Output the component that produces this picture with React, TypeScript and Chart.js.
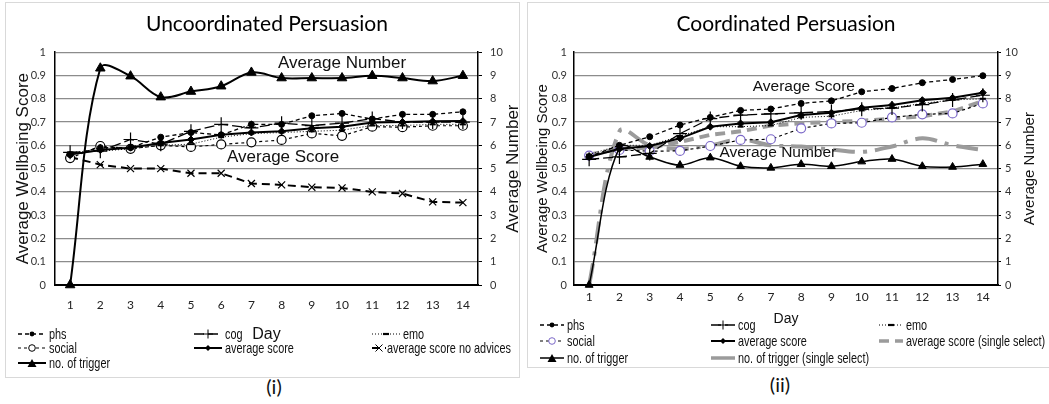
import React, { useEffect, useRef } from 'react';
import { Chart, registerables } from 'chart.js';

Chart.register(...registerables);

// ---------- data ----------
const days = ['1', '2', '3', '4', '5', '6', '7', '8', '9', '10', '11', '12', '13', '14'];

// Uncoordinated persuasion (left panel)
const uPhs = [0.56, 0.59, 0.59, 0.635, 0.655, 0.645, 0.69, 0.69, 0.727, 0.737, 0.713, 0.733, 0.733, 0.744];
const uCog = [0.57, 0.575, 0.625, 0.605, 0.66, 0.69, 0.675, 0.695, 0.685, 0.695, 0.715, 0.7, 0.7, 0.7];
const uEmo = [0.57, 0.575, 0.585, 0.6, 0.605, 0.635, 0.65, 0.655, 0.66, 0.665, 0.685, 0.685, 0.69, 0.69];
const uSocial = [0.545, 0.597, 0.585, 0.6, 0.593, 0.604, 0.613, 0.623, 0.651, 0.641, 0.68, 0.678, 0.684, 0.684];
const uAverage = [0.56, 0.58, 0.59, 0.61, 0.625, 0.645, 0.655, 0.66, 0.673, 0.68, 0.698, 0.7, 0.703, 0.704];
const uNoAdvice = [0.55, 0.517, 0.5, 0.5, 0.48, 0.48, 0.436, 0.43, 0.42, 0.417, 0.4, 0.393, 0.357, 0.354];
const uTrigger = [0, 9.31, 8.97, 8.07, 8.31, 8.54, 9.13, 8.89, 8.89, 8.89, 8.99, 8.89, 8.76, 8.99];

// Coordinated persuasion (right panel)
const cPhs = [0.551, 0.6, 0.637, 0.687, 0.72, 0.75, 0.756, 0.78, 0.791, 0.83, 0.844, 0.869, 0.883, 0.899];
const cCog = [0.54, 0.55, 0.565, 0.65, 0.715, 0.73, 0.735, 0.74, 0.745, 0.755, 0.76, 0.775, 0.795, 0.815];
const cEmo = [0.56, 0.6, 0.6, 0.64, 0.68, 0.68, 0.685, 0.72, 0.725, 0.75, 0.76, 0.78, 0.795, 0.8];
const cSocial = [0.556, 0.58, 0.575, 0.576, 0.597, 0.623, 0.626, 0.673, 0.694, 0.697, 0.72, 0.733, 0.737, 0.78];
const cAverage = [0.55, 0.585, 0.597, 0.63, 0.68, 0.694, 0.699, 0.73, 0.74, 0.761, 0.773, 0.794, 0.804, 0.826];
const cAverageSingle = [0.56, 0.585, 0.59, 0.615, 0.645, 0.66, 0.685, 0.695, 0.7, 0.705, 0.715, 0.725, 0.745, 0.79];
const cTrigger = [0, 5.9, 5.5, 5.15, 5.47, 5.1, 5.03, 5.19, 5.1, 5.3, 5.41, 5.1, 5.07, 5.19];
const cTriggerSingle = [0, 6.6, 6.0, 5.85, 6.0, 6.25, 6.0, 5.95, 5.82, 5.72, 5.95, 6.3, 6.0, 5.8];

const leftTitle = 'Uncoordinated Persuasion';
const rightTitle = 'Coordinated Persuasion';
const yLeftTitle = 'Average Wellbeing Score';
const yRightTitle = 'Average Number';
const xTitle = 'Day';

const uLegendRows = [
  ['phs', 'cog', 'emo'],
  ['social', 'average score', 'average score no advices'],
  ['no. of trigger'],
];
const cLegendRows = [
  ['phs', 'cog', 'emo'],
  ['social', 'average score', 'average score (single select)'],
  ['no. of trigger', 'no. of trigger (single select)'],
];

// ---------- styles ----------
const ARIAL = '"Liberation Sans", Arial, sans-serif';
const NARROW = '"Liberation Sans Narrow", "Arial Narrow", "Liberation Sans", sans-serif';
const CAL = 'Lato, "Open Sans", sans-serif';
const GRAY = '#9b9b9b';
const PURPLE = '#7b68c8';

type Marker = 'dot' | 'plus' | 'dash' | 'ocircle' | 'diamond' | 'x' | 'tri' | 'none';
type SeriesStyle = { color: string; width: number; dash: number[]; marker: Marker; markerColor?: string };

const S: Record<string, SeriesStyle> = {
  phs: { color: '#000', width: 1.3, dash: [4, 3], marker: 'dot' },
  cog: { color: '#000', width: 1.3, dash: [10, 4], marker: 'plus' },
  emo: { color: '#000', width: 1, dash: [1, 2], marker: 'dash' },
  social: { color: '#000', width: 1.2, dash: [3, 3], marker: 'ocircle' },
  socialC: { color: '#000', width: 1.2, dash: [3, 3], marker: 'ocircle', markerColor: PURPLE },
  avg: { color: '#000', width: 2, dash: [], marker: 'diamond' },
  noAdv: { color: '#000', width: 2, dash: [8, 5], marker: 'x' },
  trig: { color: '#000', width: 2, dash: [], marker: 'tri' },
  avgSingle: { color: GRAY, width: 4, dash: [10, 6], marker: 'none' },
  trigSingle: { color: GRAY, width: 4, dash: [], marker: 'none' },
};

function pointProps(st: SeriesStyle, big = false) {
  const mc = st.markerColor || st.color;
  switch (st.marker) {
    case 'dot':
      return { pointStyle: 'circle', pointRadius: 3, pointBackgroundColor: mc, pointBorderColor: mc, pointBorderWidth: 1 };
    case 'plus':
      return { pointStyle: 'cross', pointRadius: 7, pointBackgroundColor: mc, pointBorderColor: mc, pointBorderWidth: 1.2 };
    case 'dash':
      return { pointStyle: 'line', pointRadius: 3, pointBackgroundColor: mc, pointBorderColor: mc, pointBorderWidth: 2 };
    case 'ocircle':
      return { pointStyle: 'circle', pointRadius: 4.5, pointBackgroundColor: '#fff', pointBorderColor: mc, pointBorderWidth: 1.2 };
    case 'diamond':
      return { pointStyle: 'rectRot', pointRadius: 3.5, pointBackgroundColor: mc, pointBorderColor: mc, pointBorderWidth: 1 };
    case 'x':
      return { pointStyle: 'crossRot', pointRadius: 5, pointBackgroundColor: mc, pointBorderColor: mc, pointBorderWidth: 1.2 };
    case 'tri':
      return { pointStyle: 'triangle', pointRadius: big ? 5.5 : 4.5, pointBackgroundColor: mc, pointBorderColor: mc, pointBorderWidth: 1 };
    default:
      return { pointRadius: 0 };
  }
}

function ds(label: string, data: number[], st: SeriesStyle, extra: any = {}) {
  return {
    label,
    data,
    borderColor: st.color,
    borderWidth: st.width,
    borderDash: st.dash,
    backgroundColor: st.color,
    fill: false,
    tension: 0,
    clip: false,
    yAxisID: 'y',
    ...pointProps(st, extra.big),
    ...extra,
  };
}

const notesPlugin = {
  id: 'panelNotes',
  afterDatasetsDraw(chart: any, _args: any, opts: any) {
    const ctx = chart.ctx;
    const xs = chart.scales.x;
    const ys = chart.scales.y;
    ctx.save();
    ctx.fillStyle = '#111';
    ctx.textAlign = 'center';
    ctx.textBaseline = 'middle';
    for (const n of opts.notes || []) {
      ctx.font = `${n.size}px ${ARIAL}`;
      ctx.fillText(n.text, xs.getPixelForValue(n.at), ys.getPixelForValue(n.value));
    }
    const y1 = chart.scales.y1;
    const ca = chart.chartArea;
    ctx.translate(y1.right - opts.rightOffset, (ca.top + ca.bottom) / 2);
    ctx.rotate(-Math.PI / 2);
    ctx.font = `${opts.rightSize}px ${ARIAL}`;
    ctx.fillText(opts.rightTitle, 0, 0);
    ctx.restore();
  },
};

type PanelCfg = {
  title: string;
  datasets: any[];
  yWidth: number;
  y1Width: number;
  xHeight: number;
  yTitleSize: number;
  yTitlePad: number;
  xTickPad: number;
  xTitleSize: number;
  xTitlePadBottom: number;
  yTickPad: number;
  y1TickPad: number;
  y1TickLen: number;
  notes: any[];
  rightOffset: number;
  rightSize: number;
};

const fmtLeft = (v: any) => String(Math.round(Number(v) * 10) / 10);

function makeConfig(p: PanelCfg): any {
  return {
    type: 'line',
    data: { labels: days, datasets: p.datasets },
    plugins: [notesPlugin],
    options: {
      responsive: false,
      animation: false,
      layout: { padding: 0 },
      plugins: {
        legend: { display: false },
        tooltip: { enabled: false },
        title: {
          display: true,
          text: p.title,
          color: '#000',
          font: { family: CAL, size: 21, weight: 'normal' },
          padding: { top: 12, bottom: 15 },
        },
        panelNotes: { notes: p.notes, rightTitle: yRightTitle, rightOffset: p.rightOffset, rightSize: p.rightSize },
      },
      scales: {
        x: {
          type: 'category',
          offset: true,
          grid: { display: false, drawTicks: false },
          border: { display: true, color: '#000', width: 2 },
          ticks: { color: '#222', font: { family: CAL, size: 12 }, padding: p.xTickPad, maxRotation: 0, autoSkip: false },
          title: {
            display: true,
            text: xTitle,
            color: '#111',
            font: { family: ARIAL, size: p.xTitleSize },
            padding: { top: 0, bottom: p.xTitlePadBottom },
          },
          afterFit: (s: any) => { s.height = p.xHeight; },
        },
        y: {
          position: 'left',
          min: 0,
          max: 1,
          ticks: { stepSize: 0.1, color: '#333', font: { family: CAL, size: 11 }, padding: p.yTickPad, callback: fmtLeft },
          grid: { color: '#8c8c8c', lineWidth: 1.3, drawTicks: false },
          border: { display: true, color: '#000', width: 1.5 },
          title: {
            display: true,
            text: yLeftTitle,
            color: '#111',
            font: { family: ARIAL, size: p.yTitleSize },
            padding: { top: p.yTitlePad, bottom: 0 },
          },
          afterFit: (s: any) => { s.width = p.yWidth; },
        },
        y1: {
          position: 'right',
          min: 0,
          max: 10,
          ticks: { stepSize: 1, color: '#333', font: { family: CAL, size: 11 }, padding: p.y1TickPad },
          grid: { display: true, drawOnChartArea: false, drawTicks: true, tickLength: p.y1TickLen, color: '#000', lineWidth: 1 },
          border: { display: true, color: '#000', width: 1.5 },
          afterFit: (s: any) => { s.width = p.y1Width; },
        },
      },
    },
  };
}

function ChartCanvas({ cfg, width, height, left }: { cfg: () => any; width: number; height: number; left: number }) {
  const ref = useRef<HTMLCanvasElement | null>(null);
  useEffect(() => {
    if (!ref.current) return;
    const chart = new Chart(ref.current, cfg());
    return () => chart.destroy();
  }, []);
  return (
    <canvas
      ref={ref}
      width={width}
      height={height}
      style={{ position: 'absolute', left, top: 0, width, height }}
    />
  );
}

function Sample({ st, w = 30 }: { st: SeriesStyle; w?: number }) {
  const mc = st.markerColor || st.color;
  const c = w / 2;
  let m: any = null;
  switch (st.marker) {
    case 'dot': m = <circle cx={c} cy={6} r={2.4} fill={mc} />; break;
    case 'plus': m = <path d={`M${c} 1.5 V10.5 M${c - 5} 6 H${c + 5}`} stroke={mc} strokeWidth={1} />; break;
    case 'dash': m = <line x1={c - 3} y1={6} x2={c + 3} y2={6} stroke={mc} strokeWidth={2.2} />; break;
    case 'ocircle': m = <circle cx={c} cy={6} r={3.3} fill="#fff" stroke={mc} strokeWidth={1} />; break;
    case 'diamond': m = <polygon points={`${c},3 ${c + 3},6 ${c},9 ${c - 3},6`} fill={mc} />; break;
    case 'x': m = <path d={`M${c - 3.5} 2.5 L${c + 3.5} 9.5 M${c + 3.5} 2.5 L${c - 3.5} 9.5`} stroke={mc} strokeWidth={1} />; break;
    case 'tri': m = <polygon points={`${c},2 ${c + 4.5},10 ${c - 4.5},10`} fill={mc} />; break;
    default: break;
  }
  return (
    <svg width={w} height={12} style={{ display: 'block' }}>
      <line x1={0} y1={6} x2={w} y2={6} stroke={st.color} strokeWidth={Math.min(st.width, 3.5)} strokeDasharray={st.dash.length ? st.dash.join(' ') : undefined} />
      {m}
    </svg>
  );
}

function LegendItem({ x, y, label, st, w = 30, gap = 2 }: { x: number; y: number; label: string; st: SeriesStyle; w?: number; gap?: number }) {
  return (
    <div style={{ position: 'absolute', left: x, top: y - 9, height: 18, display: 'flex', alignItems: 'center', whiteSpace: 'nowrap', font: `14.5px ${NARROW}`, color: '#111' }}>
      <Sample st={st} w={w} />
      <span style={{ marginLeft: gap, display: 'inline-block', transform: 'scaleX(0.75)', transformOrigin: 'left center' }}>{label}</span>
    </div>
  );
}

export default function App() {
  const leftCfg = () =>
    makeConfig({
      title: leftTitle,
      datasets: [
        ds(uLegendRows[2][0], uTrigger, S.trig, { yAxisID: 'y1', tension: 0.35, big: true }),
        ds(uLegendRows[1][1], uAverage, S.avg),
        ds(uLegendRows[0][0], uPhs, S.phs),
        ds(uLegendRows[0][1], uCog, S.cog),
        ds(uLegendRows[0][2], uEmo, S.emo),
        ds(uLegendRows[1][0], uSocial, S.social),
        ds(uLegendRows[1][2], uNoAdvice, S.noAdv),
      ],
      yWidth: 55,
      y1Width: 56,
      xHeight: 65,
      yTitleSize: 17,
      yTitlePad: 13,
      xTickPad: 13,
      xTitleSize: 16,
      xTitlePadBottom: 6,
      yTickPad: 9,
      y1TickPad: 8,
      y1TickLen: 4,
      notes: [
        { text: 'Average Number', at: 9.0, value: 0.953, size: 17 },
        { text: 'Average Score', at: 7.05, value: 0.549, size: 17 },
      ],
      rightOffset: 21,
      rightSize: 17,
    });

  const rightCfg = () =>
    makeConfig({
      title: rightTitle,
      datasets: [
        ds(cLegendRows[2][0], cTrigger, { ...S.trig, width: 1.5 }, { yAxisID: 'y1', tension: 0.35 }),
        ds(cLegendRows[1][1], cAverage, S.avg),
        ds(cLegendRows[0][0], cPhs, S.phs),
        ds(cLegendRows[0][1], cCog, S.cog),
        ds(cLegendRows[0][2], cEmo, S.emo),
        ds(cLegendRows[1][0], cSocial, S.socialC),
        ds(cLegendRows[1][2], cAverageSingle, S.avgSingle),
        ds(cLegendRows[2][1], cTriggerSingle, { ...S.trigSingle, dash: [22, 8, 4, 8] }, { yAxisID: 'y1', tension: 0.35 }),
      ],
      yWidth: 47,
      y1Width: 47,
      xHeight: 65,
      yTitleSize: 15,
      yTitlePad: 7,
      xTickPad: 5,
      xTitleSize: 14,
      xTitlePadBottom: 22,
      yTickPad: 7,
      y1TickPad: 4,
      y1TickLen: 3,
      notes: [
        { text: 'Average Score', at: 7.09, value: 0.85, size: 15.5 },
        { text: 'Average Number', at: 6.23, value: 0.567, size: 15.5 },
      ],
      rightOffset: 15,
      rightSize: 15,
    });

  const uStyles = [
    [S.phs, S.cog, S.emo],
    [S.social, S.avg, S.noAdv],
    [S.trig],
  ];
  const cStyles = [
    [S.phs, S.cog, S.emo],
    [S.socialC, S.avg, S.avgSingle],
    [{ ...S.trig, width: 1.5 }, S.trigSingle],
  ];
  const uCols = [18, 194, 372];
  const uRowsY = [334, 348, 363];
  const cCols = [540, 711, 879];
  const cRowsY = [325, 341, 358];

  return (
    <div style={{ position: 'fixed', left: 0, top: 0, width: 1049, height: 404, background: '#fff', overflow: 'hidden' }}>
      <div style={{ position: 'absolute', left: 5, top: 2, width: 513, height: 374, border: '1px solid #d9d9d9' }} />
      <div style={{ position: 'absolute', left: 527, top: 2, width: 540, height: 364, border: '1px solid #d9d9d9' }} />
      <ChartCanvas cfg={leftCfg} width={534} height={350} left={0} />
      <ChartCanvas cfg={rightCfg} width={518} height={350} left={527} />
      {uLegendRows.map((row, ri) =>
        row.map((lab, ci) => (
          <LegendItem
            key={`u${ri}${ci}`}
            x={uCols[ci]}
            y={uRowsY[ri]}
            label={lab}
            st={uStyles[ri][ci]}
            w={ri === 1 && ci === 2 ? 14 : 28}
            gap={ri === 1 && ci === 2 ? 1 : 3}
          />
        ))
      )}
      {cLegendRows.map((row, ri) =>
        row.map((lab, ci) => (
          <LegendItem key={`c${ri}${ci}`} x={cCols[ci]} y={cRowsY[ri]} label={lab} st={cStyles[ri][ci]} w={24} gap={3} />
        ))
      )}
      <div style={{ position: 'absolute', left: 254, top: 374, width: 40, textAlign: 'center', font: `20px ${CAL}`, color: '#111' }}>(i)</div>
      <div style={{ position: 'absolute', left: 760, top: 372, width: 40, textAlign: 'center', font: `20px ${CAL}`, color: '#111' }}>(ii)</div>
    </div>
  );
}
